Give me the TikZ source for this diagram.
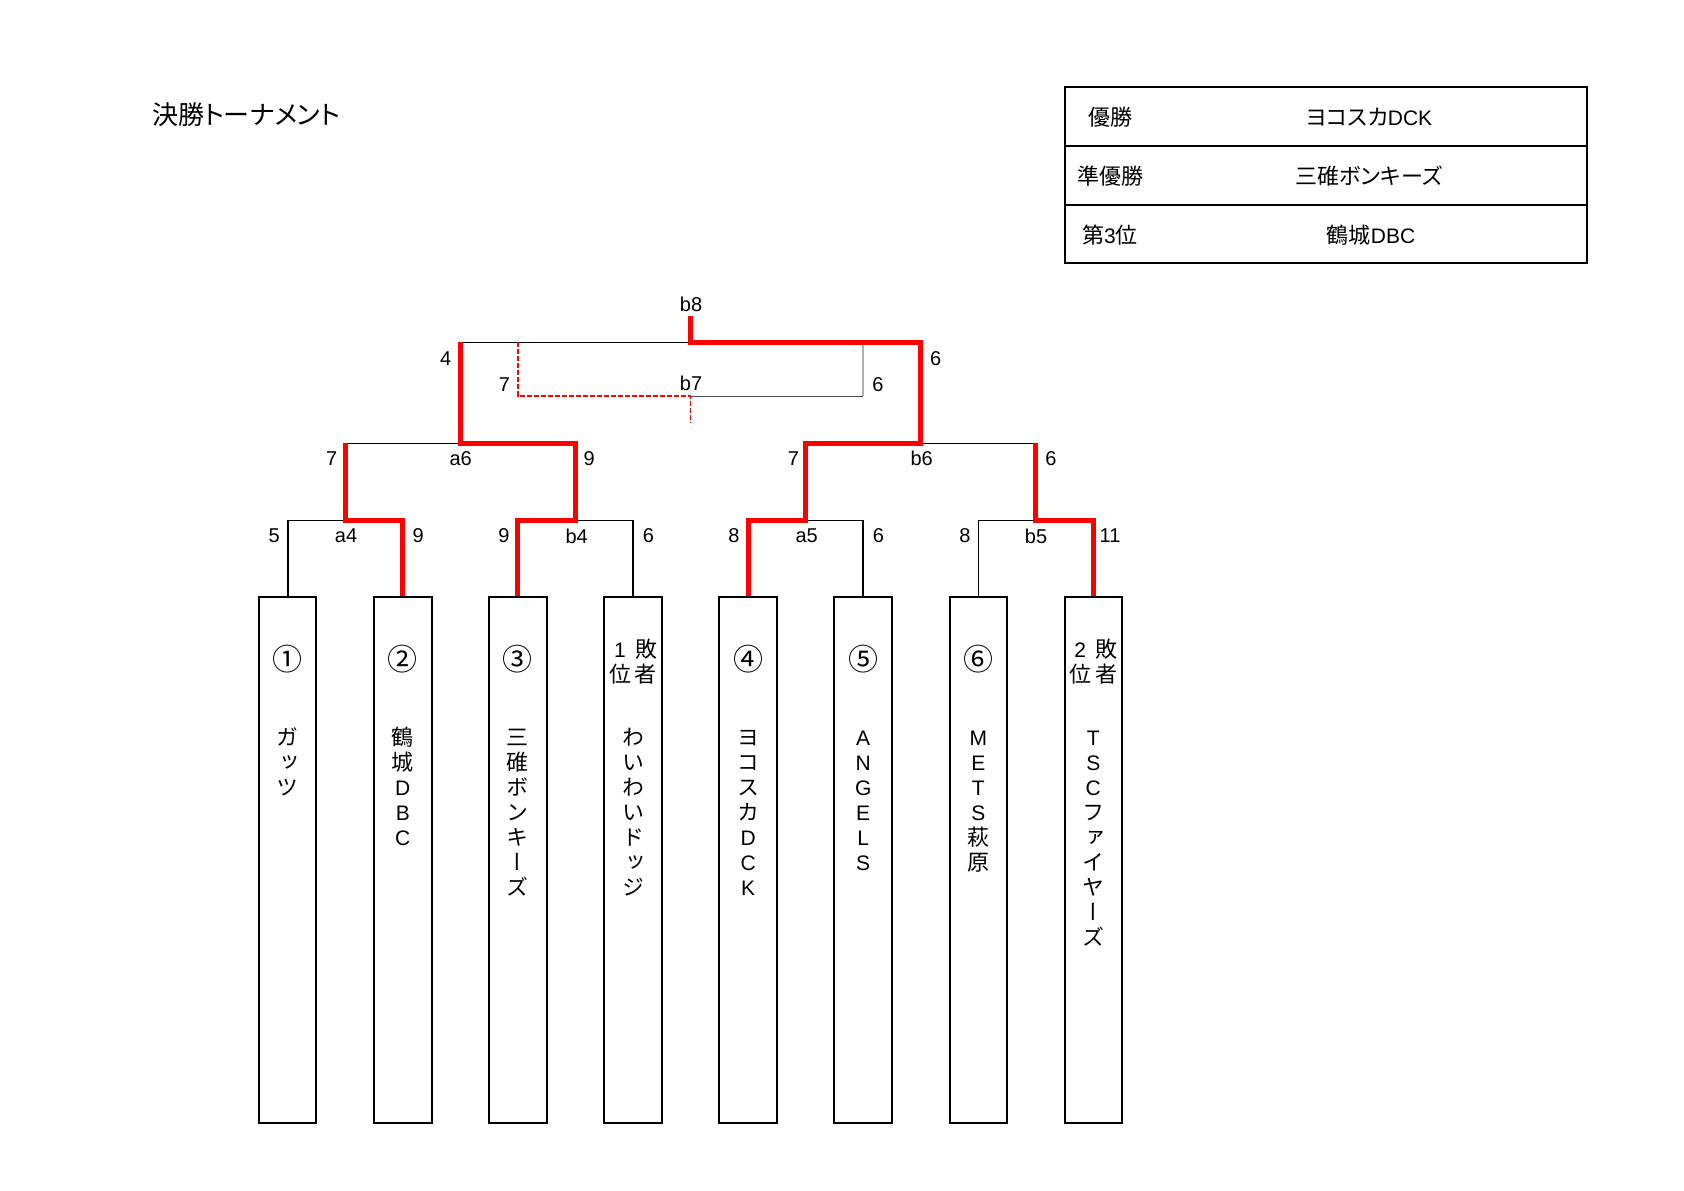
\documentclass[tikz,border=0pt]{standalone}
\usepackage{fontspec}
\setmainfont{Liberation Sans}
\newfontfamily\jp[RawFeature=+palt]{Noto Sans CJK JP}
\newfontfamily\jpv[RawFeature=+vert]{Noto Sans CJK JP}
\usetikzlibrary{calc}
\newcommand{\lt}[1]{{\rmfamily\fontsize{10.5}{12.45}\selectfont #1}}
\newcommand{\fst}{\rule{0pt}{10pt}}
\begin{document}
\begin{tikzpicture}[x=0.5pt,y=-0.5pt,
  teambox/.style={draw, line width=1pt, minimum width=28.75pt, minimum height=263.15pt, inner sep=0pt},
  bline/.style={line width=0.8pt},
  win/.style={red, line width=2.5pt},
  score/.style={font=\rmfamily\fontsize{10}{11}\selectfont, inner sep=0pt},
  cnum/.style={font=\jpv\fontsize{15}{15}\selectfont, inner sep=0pt},
  vname/.style={font=\jpv\fontsize{11}{12.45}\selectfont, align=center, anchor=north, inner sep=0pt},
  cell/.style={font=\jp\fontsize{11}{13}\selectfont, inner sep=0pt},
  tline/.style={line width=1pt}]
\useasboundingbox (0,0) rectangle (1684,1190);

% title
\node[font=\jp\fontsize{13}{15}\selectfont, anchor=west, inner sep=0pt] (title) at (151.7,115) {決勝トーナメント};

% result table
\draw[tline] (1065,87.3) rectangle (1586.7,263.3);
\draw[tline] (1065,146) -- (1586.7,146);
\draw[tline] (1065,205) -- (1586.7,205);
\node[cell] (r1a) at (1110,116.7) {優勝};
\node[cell] (r1b) at (1369,116.7) {ヨコスカ\lt{DCK}};
\node[cell] (r2a) at (1110,176) {準優勝};
\node[cell] (r2b) at (1369,176) {三碓ボンキーズ};
\node[cell] (r3a) at (1110,235) {第\lt{3}位};
\node[cell] (r3b) at (1371,235) {鶴城\lt{DBC}};

% team boxes
\node[teambox] (t1) at (287.7,860.15) {};
\node[teambox] (t2) at (402.8,860.15) {};
\node[teambox] (t3) at (517.9,860.15) {};
\node[teambox] (t4) at (633.0,860.15) {};
\node[teambox] (t5) at (748.1,860.15) {};
\node[teambox] (t6) at (863.2,860.15) {};
\node[teambox] (t7) at (978.3,860.15) {};
\node[teambox] (t8) at (1093.3,860.15) {};

% seeds
\node[cnum] (n1) at (287.7,659.3) {①};
\node[cnum] (n2) at (402.8,659.3) {②};
\node[cnum] (n3) at (517.9,659.3) {③};
\node[vname] (n4) at (633.0,636.7) {\fst\makebox[11pt]{\lt{1}}\makebox[2pt]{}\makebox[11pt]{敗}\\\makebox[11pt]{位}\makebox[2pt]{}\makebox[11pt]{者}};
\node[cnum] (n5) at (748.1,659.3) {④};
\node[cnum] (n6) at (863.2,659.3) {⑤};
\node[cnum] (n7) at (978.3,659.3) {⑥};
\node[vname] (n8) at (1093.3,636.7) {\fst\makebox[11pt]{\lt{2}}\makebox[2pt]{}\makebox[11pt]{敗}\\\makebox[11pt]{位}\makebox[2pt]{}\makebox[11pt]{者}};

% team names
\node[vname] (m1) at (287.7,725.4) {\fst ガ\\ッ\\ツ};
\node[vname] (m2) at (402.8,725.4) {\fst 鶴\\城\\\lt{D}\\\lt{B}\\\lt{C}};
\node[vname] (m3) at (517.9,725.4) {\fst 三\\碓\\ボ\\ン\\キ\\ー\\ズ};
\node[vname] (m4) at (633.0,725.4) {\fst わ\\い\\わ\\い\\ド\\ッ\\ジ};
\node[vname] (m5) at (748.1,725.4) {\fst ヨ\\コ\\ス\\カ\\\lt{D}\\\lt{C}\\\lt{K}};
\node[vname] (m6) at (863.2,725.4) {\fst\lt{A}\\\lt{N}\\\lt{G}\\\lt{E}\\\lt{L}\\\lt{S}};
\node[vname] (m7) at (978.3,725.4) {\fst\lt{M}\\\lt{E}\\\lt{T}\\\lt{S}\\萩\\原};
\node[vname] (m8) at (1093.3,725.4) {\fst\lt{T}\\\lt{S}\\\lt{C}\\フ\\ァ\\イ\\ヤ\\ー\\ズ};

% bracket junctions
\coordinate (a4) at (345.25,520.3);
\coordinate (b4) at (575.45,520.3);
\coordinate (a5) at (805.65,520.3);
\coordinate (b5) at (1035.8,520.3);
\coordinate (a6) at (460.35,443.3);
\coordinate (b6) at (920.7,443.3);
\coordinate (b8) at (690.5,342.3);
\coordinate (b8top) at (690.5,315.5);
\coordinate (b7) at (690.5,396);
\coordinate (b7end) at (690.5,423);

% black bracket lines
\draw[bline] (t1.north) |- (a4) -| (t2.north);
\draw[bline] (t3.north) |- (b4) -| (t4.north);
\draw[bline] (t5.north) |- (a5) -| (t6.north);
\draw[bline] (t7.north) |- (b5) -| (t8.north);
\draw[bline] (a4) |- (a6) -| (b4);
\draw[bline] (a5) |- (b6) -| (b5);
\draw[bline] (a6) |- (b8) -| (b6);

% third place match
\draw[line width=1pt, black!30] (b8 -| t6) -- (b7 -| t6);
\draw[line width=0.5pt, black!70] (b7) -- (b7 -| t6);
\draw[red, line width=0.9pt, dash pattern=on 2.5pt off 1pt] (b8 -| t3) |- (b7) -- (b7end);

% winners
\draw[win] (t2.north) |- (a4) -- (a4 |- a6);
\draw[win] (t3.north) |- (b4) -- (b4 |- a6) -- (a6) -- (a6 |- b8);
\draw[win] (t8.north) |- (b5) -- (b5 |- b6);
\draw[win] (t5.north) |- (a5) -- (a5 |- b6) -- (b6) -- (b6 |- b8) -- (b8) -- (b8top);

% scores and match labels
\node[score] (l1) at (274.3,536) {5};
\node[score] (l2) at (346,536) {a4};
\node[score] (l3) at (418.3,536) {9};
\node[score] (l4) at (504,536) {9};
\node[score] (l5) at (576.7,536) {b4};
\node[score] (l6) at (648.3,536) {6};
\node[score] (l7) at (734,536) {8};
\node[score] (l8) at (806.7,536) {a5};
\node[score] (l9) at (878.3,536) {6};
\node[score] (l10) at (965,536) {8};
\node[score] (l11) at (1036,536) {b5};
\node[score] (l12) at (1110,536) {11};
\node[score] (k1) at (331.7,458.3) {7};
\node[score] (k2) at (460.7,458.3) {a6};
\node[score] (k3) at (589.3,458.3) {9};
\node[score] (k4) at (793.3,458.3) {7};
\node[score] (k5) at (921.7,458.3) {b6};
\node[score] (k6) at (1051,458.3) {6};
\node[score] (f1) at (445.8,358.5) {4};
\node[score] (f2) at (935.6,358.5) {6};
\node[score] (f3) at (691,304.8) {b8};
\node[score] (g1) at (504.4,384.4) {7};
\node[score] (g2) at (691,383) {b7};
\node[score] (g3) at (878,384.4) {6};
\end{tikzpicture}
\end{document}
